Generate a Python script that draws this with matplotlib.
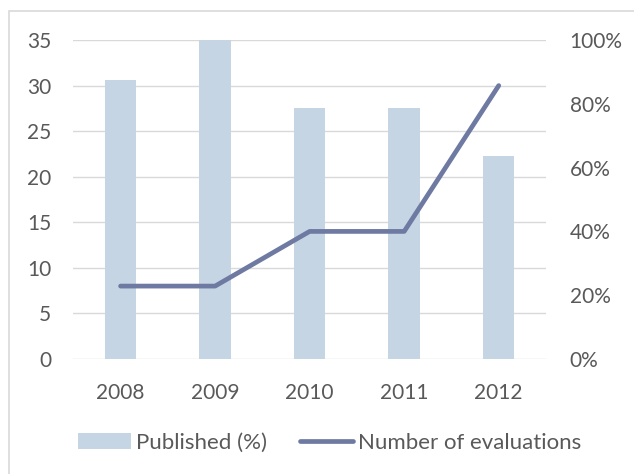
import matplotlib.pyplot as plt
import matplotlib.patches as mpatches
from matplotlib.ticker import PercentFormatter

# data
years = ['2008', '2009', '2010', '2011', '2012']
published = [0.875, 1.0, 0.786, 0.786, 0.636]   # right axis, share
evaluations = [8, 8, 14, 14, 30]                 # left axis, count

bar_color = '#C5D5E3'
line_color = '#6E7AA2'
text_color = '#595959'
grid_color = '#D9D9D9'

plt.rcParams['font.family'] = ['Lato', 'DejaVu Sans']
plt.rcParams['font.size'] = 15

fig = plt.figure(figsize=(6.34, 4.74), dpi=100)
ax = fig.add_axes([0.1156, 0.2426, 0.7456, 0.673])
ax2 = ax.twinx()

x = list(range(len(years)))

# left axis: gridlines only (drawn at the bottom)
ax.set_ylim(0, 35)
ax.set_yticks(range(0, 36, 5))
ax.yaxis.grid(True, color=grid_color, linewidth=1.0)
ax.set_axisbelow(True)

# right axis: bars, and the line in left-axis units on top of them
bars = ax2.bar(x, published, width=0.333, color=bar_color, zorder=2,
               label='Published (%)')
line, = ax2.plot(x, evaluations, transform=ax.transData, color=line_color,
                 linewidth=3.4, solid_capstyle='round', solid_joinstyle='round',
                 zorder=3, label='Number of evaluations')
ax2.set_ylim(0, 1)
ax2.set_yticks([0, 0.2, 0.4, 0.6, 0.8, 1.0])
ax2.yaxis.set_major_formatter(PercentFormatter(1.0, decimals=0))

ax.set_xlim(-0.5, len(years) - 0.5)
ax.set_xticks(x)
ax.set_xticklabels(years)

for a in (ax, ax2):
    for s in a.spines.values():
        s.set_visible(False)
ax.tick_params(axis='y', length=0, pad=16, colors=text_color)
ax.tick_params(axis='x', length=0, pad=17, colors=text_color)
ax2.tick_params(axis='y', length=0, pad=17, colors=text_color)

leg = fig.legend([bars, line], ['Published (%)', 'Number of evaluations'],
                 loc='center', bbox_to_anchor=(0.52, 0.0654), ncol=2,
                 frameon=False, fontsize=16, handlelength=2.4,
                 handletextpad=0.24, columnspacing=1.45,
                 labelcolor=text_color)

# chart area border
fig.patches.append(mpatches.Rectangle((8.5 / 634, -0.1), 1.1, 1.1 - 11 / 474,
                                      transform=fig.transFigure, fill=False,
                                      edgecolor=grid_color, linewidth=1.2))

fig.savefig('out.png', dpi=100, facecolor='white')
